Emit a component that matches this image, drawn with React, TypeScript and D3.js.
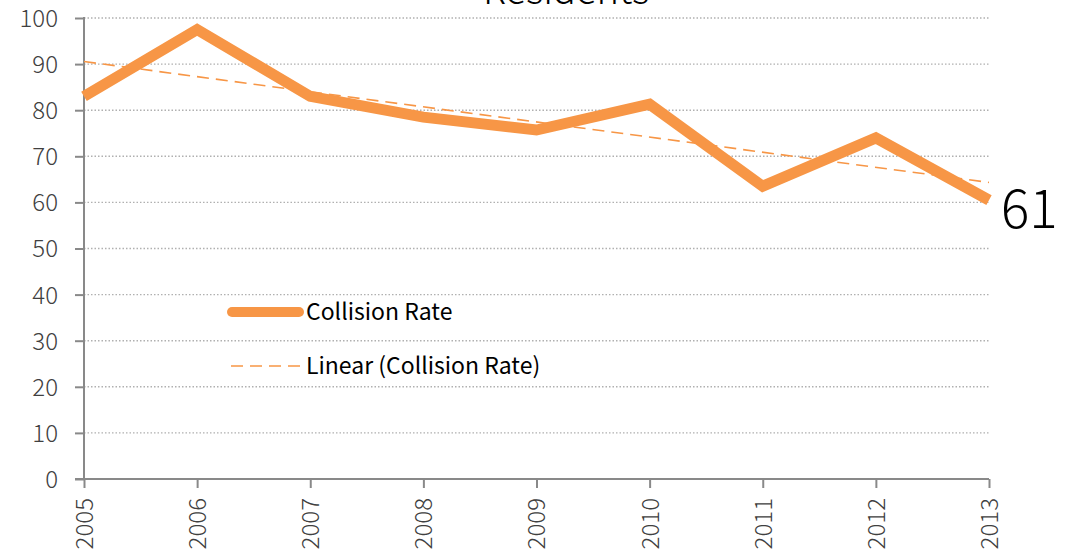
import React, { useEffect, useRef } from 'react';
import * as d3 from 'd3';

const years = ['2005', '2006', '2007', '2008', '2009', '2010', '2011', '2012', '2013'];
const collisionRate = [83, 97.5, 83, 78.5, 75.7, 81.3, 63.5, 74, 60.5];
const yTicks = [0, 10, 20, 30, 40, 50, 60, 70, 80, 90, 100];
const lastLabel = '61';
const title = 'Residents';

const App: React.FC = () => {
  const svgRef = useRef<SVGSVGElement>(null);

  useEffect(() => {
    if (!svgRef.current) return;
    const svg = d3.select(svgRef.current);
    svg.selectAll('*').remove();

    const width = 1070;
    const height = 553;
    const margin = { top: 18, right: 81, bottom: 74, left: 84 };
    const font = '"Noto Sans CJK TC", "Noto Sans", sans-serif';
    const orange = '#F79646';
    const axisColor = '#898989';
    const textColor = '#404040';

    const x = d3.scalePoint<string>().domain(years).range([margin.left, width - margin.right]);
    const y = d3.scaleLinear().domain([0, 100]).range([height - margin.bottom, margin.top]);

    // title (mostly clipped off the top, as in the source)
    svg.append('text')
      .attr('x', 566).attr('y', 4)
      .attr('text-anchor', 'middle')
      .attr('font-family', font).attr('font-weight', 300)
      .attr('font-size', 38).attr('fill', '#000')
      .text(title);

    // gridlines
    svg.append('g').selectAll('line')
      .data(yTicks.filter(t => t > 0))
      .enter().append('line')
      .attr('x1', margin.left).attr('x2', width - margin.right)
      .attr('y1', d => y(d)).attr('y2', d => y(d))
      .attr('stroke', '#b0b0b0').attr('stroke-width', 1.4)
      .attr('stroke-dasharray', '1.5,2');

    // axes
    const yAxis = svg.append('g')
      .attr('transform', `translate(${margin.left},0)`)
      .call(d3.axisLeft(y).tickValues(yTicks).tickSize(9).tickPadding(17));
    const xAxis = svg.append('g')
      .attr('transform', `translate(0,${y(0)})`)
      .call(d3.axisBottom(x).tickSize(9).tickPadding(10));

    [yAxis, xAxis].forEach(g => {
      g.selectAll('path, line').attr('stroke', axisColor).attr('stroke-width', 2);
      g.select('.domain').attr('d', null);
      g.selectAll('text')
        .attr('font-family', font).attr('font-weight', 300)
        .attr('font-size', 24).attr('fill', textColor);
    });
    yAxis.append('line')
      .attr('x1', 0).attr('x2', 0).attr('y1', y(100) - 1).attr('y2', y(0))
      .attr('stroke', axisColor).attr('stroke-width', 2);
    xAxis.append('line')
      .attr('x1', margin.left - 9).attr('x2', width - margin.right)
      .attr('y1', 0).attr('y2', 0)
      .attr('stroke', axisColor).attr('stroke-width', 2);
    yAxis.selectAll('text').attr('dy', '0.35em');
    xAxis.selectAll('text')
      .attr('transform', 'rotate(-90)')
      .attr('text-anchor', 'end')
      .attr('x', -19).attr('y', 0).attr('dy', '0.35em');

    // linear trend from the data
    const n = collisionRate.length;
    const mx = d3.mean(collisionRate.map((_, i) => i)) as number;
    const my = d3.mean(collisionRate) as number;
    const sxy = d3.sum(collisionRate, (v, i) => (i - mx) * (v - my));
    const sxx = d3.sum(collisionRate, (_, i) => (i - mx) * (i - mx));
    const slope = sxy / sxx;
    const intercept = my - slope * mx;
    const trend: [string, number][] = [
      [years[0], intercept],
      [years[n - 1], intercept + slope * (n - 1)],
    ];

    const line = d3.line<[string, number]>()
      .x(d => x(d[0]) as number)
      .y(d => y(d[1]));

    const series: [string, number][] = years.map((yr, i) => [yr, collisionRate[i]]);

    svg.append('path')
      .datum(series)
      .attr('fill', 'none')
      .attr('stroke', orange)
      .attr('stroke-width', 11)
      .attr('stroke-linejoin', 'miter')
      .attr('d', line);

    svg.append('path')
      .datum(trend)
      .attr('fill', 'none')
      .attr('stroke', orange)
      .attr('stroke-width', 1.6)
      .attr('stroke-dasharray', '12,7')
      .attr('d', line);

    // end label
    svg.append('text')
      .attr('x', (x(years[n - 1]) as number) + 12)
      .attr('y', y(collisionRate[n - 1]) + 28)
      .attr('font-family', font).attr('font-weight', 300)
      .attr('font-size', 53).attr('fill', '#000')
      .text(lastLabel);

    // legend
    const legend = svg.append('g');
    legend.append('line')
      .attr('x1', 232).attr('x2', 299).attr('y1', 312).attr('y2', 312)
      .attr('stroke', orange).attr('stroke-width', 10).attr('stroke-linecap', 'round');
    legend.append('text')
      .attr('x', 306).attr('y', 312).attr('dy', '0.35em')
      .attr('font-family', font).attr('font-size', 23).attr('fill', '#000')
      .text('Collision Rate');
    legend.append('line')
      .attr('x1', 231).attr('x2', 300).attr('y1', 366).attr('y2', 366)
      .attr('stroke', orange).attr('stroke-width', 1.6).attr('stroke-dasharray', '12,7');
    legend.append('text')
      .attr('x', 306).attr('y', 366).attr('dy', '0.35em')
      .attr('font-family', font).attr('font-size', 23).attr('fill', '#000')
      .text('Linear (Collision Rate)');
  }, []);

  return (
    <svg ref={svgRef} width={1070} height={553}
      style={{ position: 'absolute', left: 0, top: 0, background: '#fff' }} />
  );
};

export default App;
